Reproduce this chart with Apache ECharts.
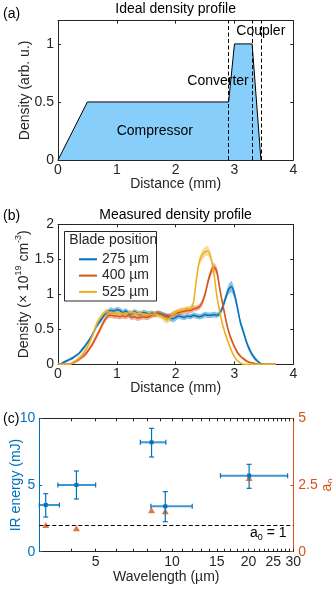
<!DOCTYPE html>
<html>
<head>
<meta charset="utf-8">
<script src="https://cdn.jsdelivr.net/npm/echarts@6/dist/echarts.min.js"></script>
<style>
html, body { margin: 0; padding: 0; background: #fff; }
#chart { width: 332px; height: 590px; }
</style>
</head>
<body>
<div id="chart"></div>
<script>
// (a) ideal density profile
var idealX = [0, 0.5, 2.9, 3.0, 3.3, 3.45];
var idealY = [0, 0.5, 0.5, 1, 1, 0];
var regionEdges = [2.9, 3.3, 3.45];
var yTicksA = [0, 0.5, 1];

// (b) measured density profiles, mm / 1e19 cm^-3
var dist = [0.00,0.05,0.10,0.15,0.20,0.25,0.30,0.35,0.40,0.45,
            0.50,0.55,0.60,0.65,0.70,0.75,0.80,0.85,0.90,0.95,
            1.00,1.05,1.10,1.15,1.20,1.25,1.30,1.35,1.40,1.45,
            1.50,1.55,1.60,1.65,1.70,1.75,1.80,1.85,1.90,1.95,
            2.00,2.05,2.10,2.15,2.20,2.25,2.30,2.35,2.40,2.45,
            2.50,2.55,2.60,2.65,2.70,2.75,2.80,2.85,2.90,2.95,
            3.00,3.05,3.10,3.15,3.20,3.25,3.30,3.35,3.40,3.45,
            3.50,3.55,3.60,3.65,3.70];
var n275 = [0.00,0.01,0.03,0.05,0.07,0.09,0.12,0.15,0.20,0.25,
            0.31,0.37,0.45,0.54,0.60,0.66,0.72,0.75,0.77,0.76,
            0.78,0.77,0.74,0.76,0.73,0.72,0.75,0.73,0.72,0.74,
            0.73,0.72,0.73,0.71,0.73,0.72,0.70,0.69,0.67,0.65,
            0.67,0.69,0.68,0.67,0.69,0.68,0.70,0.69,0.68,0.69,
            0.71,0.70,0.70,0.71,0.70,0.73,0.82,0.95,1.07,1.11,
            1.00,0.81,0.60,0.47,0.33,0.22,0.14,0.08,0.04,0.01,
            0.00,0.00,0.00,0.00,0.00];
var e275 = [0.01,0.01,0.02,0.02,0.02,0.02,0.02,0.02,0.03,0.03,
            0.03,0.03,0.03,0.04,0.04,0.04,0.04,0.04,0.04,0.04,
            0.04,0.04,0.04,0.04,0.04,0.04,0.04,0.04,0.04,0.04,
            0.04,0.04,0.04,0.04,0.04,0.04,0.04,0.04,0.05,0.05,
            0.05,0.04,0.04,0.04,0.04,0.04,0.04,0.04,0.04,0.04,
            0.04,0.04,0.04,0.04,0.04,0.04,0.05,0.06,0.07,0.08,
            0.07,0.06,0.05,0.05,0.04,0.04,0.03,0.03,0.02,0.01,
            0.01,0.00,0.00,0.00,0.00];
var n400 = [0.00,0.00,0.00,0.00,0.00,0.02,0.04,0.07,0.10,0.13,
            0.18,0.24,0.31,0.39,0.47,0.56,0.64,0.69,0.70,0.69,
            0.69,0.68,0.69,0.68,0.70,0.67,0.68,0.66,0.67,0.68,
            0.67,0.68,0.70,0.72,0.73,0.71,0.70,0.68,0.69,0.71,
            0.73,0.74,0.75,0.76,0.77,0.77,0.79,0.80,0.82,0.88,
            1.00,1.18,1.32,1.39,1.33,1.08,0.86,0.65,0.47,0.35,
            0.25,0.17,0.12,0.08,0.05,0.03,0.02,0.01,0.00,0.00,
            0.00,0.00,0.00,0.00,0.00];
var e400 = [0.00,0.00,0.01,0.01,0.01,0.02,0.02,0.03,0.03,0.03,
            0.03,0.03,0.04,0.04,0.04,0.04,0.04,0.04,0.04,0.04,
            0.04,0.04,0.04,0.04,0.04,0.04,0.04,0.04,0.04,0.04,
            0.04,0.04,0.04,0.04,0.04,0.04,0.04,0.04,0.04,0.04,
            0.04,0.04,0.04,0.04,0.04,0.04,0.04,0.04,0.04,0.05,
            0.05,0.06,0.06,0.06,0.06,0.06,0.05,0.05,0.04,0.04,
            0.03,0.03,0.02,0.02,0.02,0.01,0.01,0.01,0.00,0.00,
            0.00,0.00,0.00,0.00,0.00];
var n525 = [0.00,0.00,0.00,0.00,0.00,0.02,0.05,0.08,0.12,0.18,
            0.25,0.34,0.44,0.56,0.64,0.70,0.74,0.75,0.74,0.73,
            0.73,0.71,0.73,0.72,0.74,0.73,0.74,0.72,0.73,0.72,
            0.71,0.72,0.71,0.72,0.70,0.69,0.66,0.63,0.66,0.71,
            0.74,0.76,0.77,0.78,0.79,0.80,0.86,1.20,1.46,1.56,
            1.61,1.62,1.52,1.30,0.98,0.75,0.56,0.42,0.30,0.19,
            0.11,0.05,0.02,0.00,0.00,0.00,0.00,0.00,0.00,0.00,
            0.00,0.00,0.00,0.00,0.00];
var e525 = [0.00,0.00,0.01,0.01,0.01,0.02,0.02,0.03,0.03,0.03,
            0.04,0.04,0.04,0.04,0.04,0.04,0.04,0.04,0.04,0.04,
            0.04,0.04,0.04,0.04,0.04,0.04,0.04,0.04,0.04,0.04,
            0.04,0.04,0.04,0.04,0.04,0.04,0.05,0.05,0.05,0.05,
            0.04,0.04,0.04,0.04,0.04,0.04,0.05,0.06,0.06,0.07,
            0.07,0.07,0.06,0.06,0.05,0.05,0.04,0.04,0.03,0.03,
            0.02,0.02,0.01,0.00,0.00,0.00,0.00,0.00,0.00,0.00,
            0.00,0.00,0.00,0.00,0.00];
var bladeNames = ['275 µm', '400 µm', '525 µm'];

// (c) IR energy and a0 vs wavelength
var wl = [3.18, 4.2, 8.3, 9.4, 20.1];
var wlLo = [3.0, 3.55, 7.5, 8.25, 15.5];
var wlHi = [3.6, 5.0, 9.45, 12.0, 28.5];
var energy = [3.5, 5.0, 8.2, 3.4, 5.7];
var energyLo = [2.6, 3.95, 7.1, 2.25, 4.75];
var energyHi = [4.35, 6.05, 9.25, 4.5, 6.55];
var a0 = [1.0, 0.88, 1.55, 1.52, 2.76];
var xLabelsC = [5, 10, 15, 20, 25, 30];
var xTicksC = [4,5,6,7,8,9,10,11,12,13,14,15,16,17,18,19,20,21,22,23,24,25,26,27,28,29,30];

var ink = '#262626';
var blue = '#0072BD', orange = '#D95319', yellow = '#EDB120';
var font = 'Liberation Sans, Arial, sans-serif';
var fs = 14;

var myChart = echarts.init(document.getElementById('chart'));

function xAx(grid, pos, opts) {
    var a = {
        gridIndex: grid, position: pos, type: 'value', nameMoveOverlap: false,
        axisLine: { onZero: false, lineStyle: { color: ink, width: 1 } },
        axisTick: { inside: true, length: 3, lineStyle: { color: ink } },
        axisLabel: { show: pos === 'bottom', margin: 3, color: ink, fontSize: fs, fontFamily: font },
        splitLine: { show: false }
    };
    return Object.assign(a, opts);
}
function yAx(grid, pos, opts) {
    var a = {
        gridIndex: grid, position: pos, type: 'value', nameMoveOverlap: false,
        axisLine: { onZero: false, lineStyle: { color: ink, width: 1 } },
        axisTick: { inside: true, length: 3, lineStyle: { color: ink } },
        axisLabel: { show: pos === 'left', margin: 4, color: ink, fontSize: fs, fontFamily: font },
        splitLine: { show: false }
    };
    return Object.assign(a, opts);
}

var nameStyle = { color: ink, fontSize: fs, fontFamily: font };

function bandRender(vals, errs, color) {
    return function (params, api) {
        var pts = [];
        for (var i = 0; i < dist.length; i++) pts.push(api.coord([dist[i], vals[i] + errs[i]]));
        for (var j = dist.length - 1; j >= 0; j--) pts.push(api.coord([dist[j], vals[j] - errs[j]]));
        return {
            type: 'polygon',
            shape: { points: pts, smooth: 0.2 },
            style: { fill: color, opacity: 0.45 }
        };
    };
}

function profile(vals) {
    return dist.map(function (d, i) { return [d, vals[i]]; });
}

var option = {
    animation: false,
    grid: [
        { left: 58, top: 20.7, width: 235.3, height: 139.3, outerBoundsMode: 'none' },
        { left: 58, top: 224.3, width: 235.3, height: 140, outerBoundsMode: 'none' },
        { left: 39.3, top: 418.3, width: 254, height: 133.4, outerBoundsMode: 'none' }
    ],
    xAxis: [
        xAx(0, 'bottom', { min: 0, max: 4, interval: 1, name: 'Distance (mm)', nameLocation: 'middle', nameGap: 17, nameTextStyle: nameStyle }),
        xAx(0, 'top', { min: 0, max: 4, interval: 1 }),
        xAx(1, 'bottom', { min: 0, max: 4, interval: 1, name: 'Distance (mm)', nameLocation: 'middle', nameGap: 17, nameTextStyle: nameStyle }),
        xAx(1, 'top', { min: 0, max: 4, interval: 1 }),
        xAx(2, 'bottom', {
            type: 'log', logBase: 10, min: 3, max: 30,
            axisLabel: { show: true, margin: 3, color: ink, fontSize: fs, fontFamily: font, customValues: xLabelsC },
            axisTick: { inside: true, length: 3, lineStyle: { color: ink }, customValues: xTicksC },
            name: 'Wavelength (µm)', nameLocation: 'middle', nameGap: 18, nameTextStyle: nameStyle
        }),
        xAx(2, 'top', {
            type: 'log', logBase: 10, min: 3, max: 30,
            axisTick: { inside: true, length: 3, lineStyle: { color: ink }, customValues: xTicksC }
        })
    ],
    yAxis: [
        yAx(0, 'left', {
            min: 0, max: 1.2,
            axisLabel: { margin: 4, color: ink, fontSize: fs, fontFamily: font, customValues: yTicksA },
            axisTick: { inside: true, length: 3, lineStyle: { color: ink }, customValues: yTicksA },
            name: 'Density (arb. u.)', nameLocation: 'middle', nameGap: 26, nameTextStyle: nameStyle
        }),
        yAx(0, 'right', {
            min: 0, max: 1.2,
            axisTick: { inside: true, length: 3, lineStyle: { color: ink }, customValues: yTicksA }
        }),
        yAx(1, 'left', {
            min: 0, max: 2, interval: 0.5,
            name: 'Density (× 10{sup|19} cm{sup|-3})', nameLocation: 'middle', nameGap: 24,
            nameTextStyle: {
                color: ink, fontSize: fs, fontFamily: font, lineHeight: 20,
                rich: { sup: { fontSize: 9, fontFamily: font, color: ink, verticalAlign: 'top', lineHeight: 10 } }
            }
        }),
        yAx(1, 'right', { min: 0, max: 2, interval: 0.5 }),
        yAx(2, 'left', {
            min: 0, max: 10, interval: 5,
            axisLine: { onZero: false, lineStyle: { color: blue, width: 1 } },
            axisTick: { inside: true, length: 3, lineStyle: { color: blue } },
            axisLabel: { margin: 4, color: blue, fontSize: fs, fontFamily: font },
            name: 'IR energy (mJ)', nameLocation: 'middle', nameGap: 16,
            nameTextStyle: { color: blue, fontSize: fs, fontFamily: font }
        }),
        yAx(2, 'right', {
            min: 0, max: 5, interval: 2.5,
            axisLine: { onZero: false, lineStyle: { color: orange, width: 1 } },
            axisTick: { inside: true, length: 3, lineStyle: { color: orange } },
            axisLabel: { show: true, margin: 5, color: orange, fontSize: fs, fontFamily: font },
            name: 'a{sub|0}', nameLocation: 'middle', nameGap: 25, nameRotate: 90,
            nameTextStyle: {
                color: orange, fontSize: fs, fontFamily: font, lineHeight: 18,
                rich: { sub: { fontSize: 9, fontFamily: font, color: orange, verticalAlign: 'bottom', lineHeight: 10 } }
            }
        })
    ],
    legend: {
        data: bladeNames,
        orient: 'vertical',
        left: 79, top: 252.3,
        padding: 0,
        icon: 'rect',
        itemWidth: 18, itemHeight: 2, itemGap: 2.3,
        textStyle: { color: ink, fontSize: fs, fontFamily: font },
        z: 20
    },
    graphic: [
        { type: 'rect', z: 15, shape: { x: 64.5, y: 231.5, width: 92, height: 69.5 }, style: { fill: '#fff', stroke: ink, lineWidth: 1 } },
        { type: 'text', z: 20, x: 69.3, y: 240.5, style: { text: 'Blade position', fill: ink, font: fs + 'px ' + font, verticalAlign: 'middle' } },
        { type: 'text', z: 20, x: 3, y: 14.5, style: { text: '(a)', fill: '#000', font: fs + 'px ' + font, verticalAlign: 'middle' } },
        { type: 'text', z: 20, x: 3, y: 216, style: { text: '(b)', fill: '#000', font: fs + 'px ' + font, verticalAlign: 'middle' } },
        { type: 'text', z: 20, x: 3, y: 419, style: { text: '(c)', fill: '#000', font: fs + 'px ' + font, verticalAlign: 'middle' } },
        { type: 'text', z: 20, x: 175.6, y: 9.5, style: { text: 'Ideal density profile', fill: '#000', font: fs + 'px ' + font, align: 'center', verticalAlign: 'middle' } },
        { type: 'text', z: 20, x: 175.6, y: 215, style: { text: 'Measured density profile', fill: '#000', font: fs + 'px ' + font, align: 'center', verticalAlign: 'middle' } },
        { type: 'text', z: 20, x: 154.8, y: 131, style: { text: 'Compressor', fill: '#000', font: fs + 'px ' + font, align: 'center', verticalAlign: 'middle' } },
        { type: 'text', z: 20, x: 218, y: 81.5, style: { text: 'Converter', fill: '#000', font: fs + 'px ' + font, align: 'center', verticalAlign: 'middle' } },
        { type: 'text', z: 20, x: 260.8, y: 31, style: { text: 'Coupler', fill: '#000', font: fs + 'px ' + font, align: 'center', verticalAlign: 'middle' } },
        { type: 'text', z: 20, x: 250, y: 533, style: {
            text: 'a{sub|0} = 1', fill: '#000', font: fs + 'px ' + font, verticalAlign: 'middle', lineHeight: 18,
            rich: { sub: { fontSize: 9, fontFamily: font, fill: '#000', verticalAlign: 'bottom', lineHeight: 10 } }
        } }
    ],
    series: [
        {
            type: 'line', xAxisIndex: 0, yAxisIndex: 0,
            data: idealX.map(function (x, i) { return [x, idealY[i]]; }),
            symbol: 'none',
            lineStyle: { color: '#000', width: 1 },
            areaStyle: { color: '#87CEFA', opacity: 1 },
            markLine: {
                silent: true, symbol: 'none', label: { show: false },
                lineStyle: { color: '#000', type: [4, 2.5], width: 1 },
                data: regionEdges.map(function (x) { return { xAxis: x }; })
            },
            z: 2
        },
        { type: 'custom', xAxisIndex: 2, yAxisIndex: 2, data: [[0, 0]], clip: true, silent: true, renderItem: bandRender(n275, e275, blue), z: 1 },
        { type: 'custom', xAxisIndex: 2, yAxisIndex: 2, data: [[0, 0]], clip: true, silent: true, renderItem: bandRender(n400, e400, orange), z: 1 },
        { type: 'custom', xAxisIndex: 2, yAxisIndex: 2, data: [[0, 0]], clip: true, silent: true, renderItem: bandRender(n525, e525, yellow), z: 1 },
        { name: bladeNames[0], type: 'line', xAxisIndex: 2, yAxisIndex: 2, data: profile(n275), symbol: 'none', smooth: 0.2, color: blue, lineStyle: { color: blue, width: 1.5 }, z: 3 },
        { name: bladeNames[1], type: 'line', xAxisIndex: 2, yAxisIndex: 2, data: profile(n400), symbol: 'none', smooth: 0.2, color: orange, lineStyle: { color: orange, width: 1.5 }, z: 3 },
        { name: bladeNames[2], type: 'line', xAxisIndex: 2, yAxisIndex: 2, data: profile(n525), symbol: 'none', smooth: 0.2, color: yellow, lineStyle: { color: yellow, width: 1.5 }, z: 3 },
        {
            type: 'scatter', xAxisIndex: 4, yAxisIndex: 5,
            data: wl.map(function (w, i) { return [w, a0[i]]; }),
            symbol: 'triangle', symbolSize: [7, 6],
            itemStyle: { color: orange },
            markLine: {
                silent: true, symbol: 'none', label: { show: false },
                lineStyle: { color: '#000', type: [4, 2.5], width: 1 },
                data: [{ yAxis: 1 }]
            },
            z: 3
        },
        {
            type: 'custom', xAxisIndex: 4, yAxisIndex: 4,
            data: wl.map(function (w, i) { return [w, energy[i]]; }),
            renderItem: function (params, api) {
                var i = params.dataIndex;
                var c = api.coord([wl[i], energy[i]]);
                var l = api.coord([wlLo[i], energy[i]]);
                var r = api.coord([wlHi[i], energy[i]]);
                var t = api.coord([wl[i], energyHi[i]]);
                var b = api.coord([wl[i], energyLo[i]]);
                var cap = 2.5;
                var h = { stroke: 'rgba(0,114,189,0.75)', lineWidth: 2 };
                var v = { stroke: blue, lineWidth: 1.2 };
                return {
                    type: 'group',
                    children: [
                        { type: 'line', shape: { x1: l[0], y1: l[1], x2: r[0], y2: r[1] }, style: h },
                        { type: 'line', shape: { x1: l[0], y1: l[1] - cap, x2: l[0], y2: l[1] + cap }, style: v },
                        { type: 'line', shape: { x1: r[0], y1: r[1] - cap, x2: r[0], y2: r[1] + cap }, style: v },
                        { type: 'line', shape: { x1: t[0], y1: t[1], x2: b[0], y2: b[1] }, style: v },
                        { type: 'line', shape: { x1: t[0] - cap, y1: t[1], x2: t[0] + cap, y2: t[1] }, style: v },
                        { type: 'line', shape: { x1: b[0] - cap, y1: b[1], x2: b[0] + cap, y2: b[1] }, style: v },
                        { type: 'rect', shape: { x: c[0] - 2, y: c[1] - 2, width: 4, height: 4 }, style: { fill: blue } }
                    ]
                };
            },
            z: 4
        }
    ]
};

myChart.setOption(option);
</script>
</body>
</html>
